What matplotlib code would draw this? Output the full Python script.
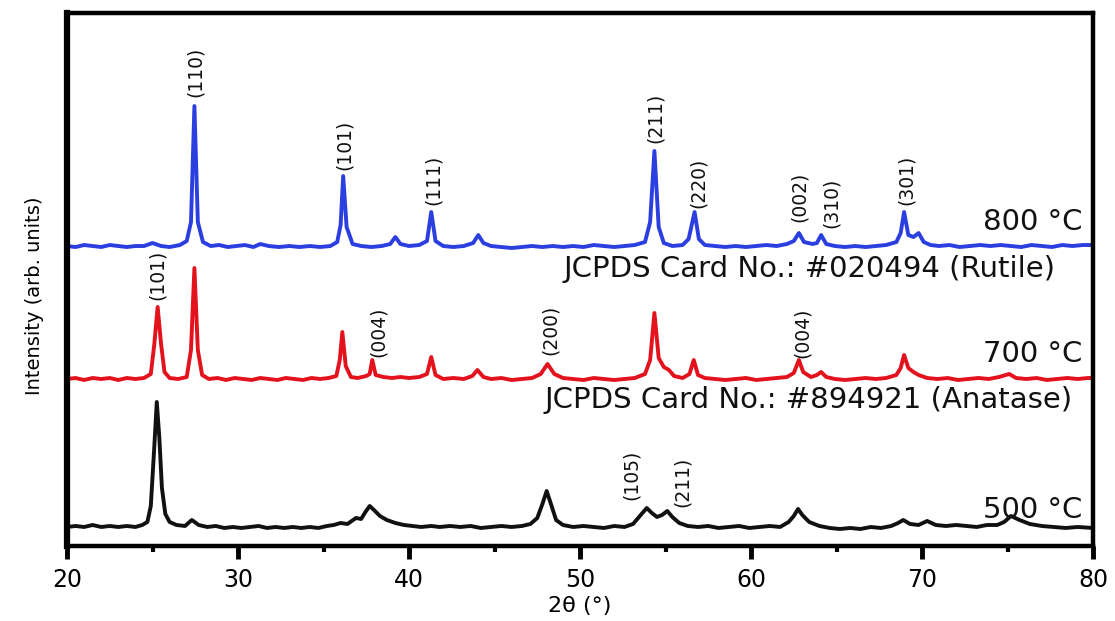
import matplotlib
matplotlib.use('Agg')
import matplotlib.pyplot as plt

# ── XRD patterns (2θ in degrees, intensity above baseline) ──
tt_500 = [20, 20.5, 21, 21.5, 22, 22.5, 23, 23.5, 24, 24.4, 24.7, 24.9, 25.1, 25.25,
          25.4, 25.55, 25.75, 26.0, 26.4, 26.9, 27.3, 27.7, 28.2, 28.7, 29.2, 29.7,
          30.2, 30.7, 31.2, 31.7, 32.2, 32.7, 33.2, 33.7, 34.2, 34.7, 35.2, 35.6, 36.0,
          36.4, 36.9, 37.2, 37.45, 37.7, 37.95, 38.3, 38.7, 39.2, 39.7, 40.2, 40.7,
          41.3, 41.8, 42.4, 43.0, 43.6, 44.2, 44.8, 45.4, 46.0, 46.6, 47.1, 47.5,
          47.8, 48.05, 48.3, 48.6, 49.0, 49.6, 50.2, 50.8, 51.4, 52.0, 52.6, 53.1,
          53.5, 53.9, 54.2, 54.5, 54.8, 55.1, 55.4, 55.8, 56.3, 56.9, 57.5, 58.1,
          58.7, 59.3, 59.9, 60.5, 61.1, 61.7, 62.2, 62.5, 62.75, 63.0, 63.4, 64.0,
          64.6, 65.2, 65.8, 66.4, 67.0, 67.6, 68.2, 68.6, 68.9, 69.3, 69.8, 70.3,
          70.8, 71.4, 72.0, 72.6, 73.2, 73.8, 74.4, 74.8, 75.2, 75.7, 76.3, 77.0,
          77.7, 78.4, 79.1, 80]
int_500 = [1, 2, 1, 3, 1, 2, 1, 2, 1, 3, 6, 22, 80, 126,
           90, 40, 14, 6, 3, 2, 8, 3, 1, 2, 0, 1,
           0, 1, 2, 0, 1, 0, 1, 0, 1, 0, 2, 3, 5,
           4, 10, 9, 16, 22, 18, 12, 8, 5, 3, 2, 1,
           2, 1, 2, 1, 2, 0, 1, 2, 1, 2, 4, 10,
           24, 37, 24, 8, 3, 1, 2, 1, 0, 2, 1, 4,
           12, 20, 15, 11, 13, 17, 11, 5, 2, 1, 2, 0,
           1, 2, 0, 1, 2, 1, 6, 12, 19, 13, 6, 2,
           0, -1, 0, -1, 1, 0, 2, 5, 8, 4, 3, 7,
           3, 2, 3, 2, 1, 3, 3, 6, 12, 8, 4, 2,
           1, 0, 1, 0]

tt_700 = [20, 20.5, 21, 21.5, 22, 22.5, 23, 23.5, 24, 24.5, 24.9, 25.1, 25.3, 25.5,
          25.7, 26.0, 26.5, 27.0, 27.25, 27.45, 27.65, 27.9, 28.3, 28.8, 29.3, 29.8,
          30.3, 30.8, 31.3, 31.8, 32.3, 32.8, 33.3, 33.8, 34.3, 34.8, 35.3, 35.75,
          35.95, 36.1, 36.3, 36.6, 37.0, 37.5, 37.7, 37.85, 38.05, 38.5, 39.0, 39.5,
          40.0, 40.6, 41.05, 41.3, 41.55, 42.0, 42.6, 43.2, 43.7, 44.0, 44.35, 44.8,
          45.4, 46.0, 46.6, 47.2, 47.7, 48.1, 48.5, 49.0, 49.6, 50.2, 50.8, 51.4,
          52.0, 52.6, 53.2, 53.8, 54.1, 54.35, 54.6, 54.9, 55.2, 55.5, 56.0, 56.4,
          56.65, 56.9, 57.3, 57.9, 58.5, 59.1, 59.7, 60.3, 60.9, 61.5, 62.1, 62.5,
          62.8, 63.05, 63.5, 63.85, 64.1, 64.4, 64.9, 65.5, 66.1, 66.7, 67.3, 67.9,
          68.5, 68.75, 68.95, 69.2, 69.5, 69.8, 70.3, 70.9, 71.5, 72.1, 72.7, 73.3,
          73.9, 74.5, 75.1, 75.5, 76.1, 76.7, 77.3, 77.9, 78.5, 79.1, 79.7, 80]
int_700 = [1, 2, 0, 2, 1, 2, 0, 2, 1, 2, 6, 35, 73, 36,
           8, 2, 1, 3, 30, 112, 30, 5, 1, 2, 0, 2,
           1, 0, 2, 1, 0, 2, 1, 0, 2, 1, 2, 4,
           20, 48, 14, 3, 2, 4, 6, 20, 5, 3, 2, 3,
           2, 3, 6, 23, 5, 1, 2, 1, 4, 10, 3, 1,
           2, 0, 1, 2, 6, 16, 6, 2, 1, 0, 2, 1,
           0, 1, 2, 6, 20, 67, 22, 13, 10, 4, 2, 6,
           20, 5, 2, 1, 0, 1, 2, 0, 1, 2, 3, 7,
           20, 8, 3, 5, 8, 3, 1, 0, 1, 2, 1, 2,
           5, 12, 25, 12, 8, 5, 2, 1, 2, 0, 1, 2,
           1, 3, 6, 2, 1, 2, 0, 1, 2, 1, 2, 2]

tt_800 = [20, 20.5, 21, 21.5, 22, 22.5, 23, 23.5, 24, 24.5, 25.0, 25.5, 26.0, 26.6,
          27.0, 27.25, 27.45, 27.65, 27.95, 28.4, 28.9, 29.4, 29.9, 30.4, 30.9, 31.3,
          31.8, 32.4, 33.0, 33.6, 34.2, 34.8, 35.4, 35.8, 36.0, 36.15, 36.35, 36.7,
          37.2, 37.8, 38.4, 38.9, 39.2, 39.5, 40.0, 40.6, 41.05, 41.3, 41.55, 42.0,
          42.6, 43.2, 43.75, 44.05, 44.35, 44.8, 45.4, 46.0, 46.6, 47.2, 47.8, 48.4,
          49.0, 49.6, 50.2, 50.8, 51.4, 52.0, 52.6, 53.2, 53.8, 54.1, 54.35, 54.6,
          54.9, 55.4, 56.0, 56.35, 56.7, 56.95, 57.3, 57.9, 58.5, 59.1, 59.7, 60.3,
          60.9, 61.5, 62.1, 62.5, 62.8, 63.1, 63.6, 63.85, 64.1, 64.4, 64.9, 65.5,
          66.1, 66.7, 67.3, 67.9, 68.5, 68.75, 68.95, 69.2, 69.5, 69.8, 70.1, 70.5,
          71.0, 71.6, 72.2, 72.8, 73.4, 74.0, 74.6, 75.2, 75.8, 76.4, 77.0, 77.6,
          78.2, 78.8, 79.4, 80]
int_800 = [1, 0, 2, 1, 0, 2, 1, 0, 1, 1, 4, 1, 0, 2,
           6, 25, 141, 25, 5, 1, 2, 0, 1, 2, 0, 3,
           1, 0, 1, 0, 1, 0, 1, 5, 22, 71, 20, 3,
           1, 0, 1, 3, 10, 3, 1, 2, 6, 35, 6, 1,
           0, 1, 4, 12, 4, 1, 0, -1, 0, 1, 0, 1,
           0, 1, 0, 2, 1, 0, 1, 2, 5, 25, 96, 20,
           4, 1, 2, 8, 35, 8, 2, 1, 0, 1, 0, 1,
           2, 1, 3, 6, 14, 5, 3, 4, 12, 3, 1, 0,
           1, 0, 1, 2, 5, 14, 35, 12, 10, 14, 5, 2,
           1, 2, 0, 1, 2, 1, 2, 1, 0, 2, 1, 0,
           2, 1, 2, 2]

# vertical offsets of the stacked patterns
offset_500 = 18
offset_700 = 166
offset_800 = 299

# ── Miller index labels: (text, 2θ, label bottom) ──
hkl_800 = [("(110)", 27.5, 449), ("(101)", 36.2, 376), ("(111)", 41.4, 341),
           ("(211)", 54.4, 403), ("(220)", 56.9, 338), ("(002)", 62.8, 324),
           ("(310)", 64.7, 318), ("(301)", 69.1, 341)]
hkl_700 = [("(101)", 25.3, 246), ("(004)", 38.2, 189), ("(200)", 48.25, 191),
           ("(004)", 63.0, 188)]
hkl_500 = [("(105)", 53.0, 46), ("(211)", 56.0, 39)]

fig = plt.figure(figsize=(11.15, 6.21), dpi=100)
ax = fig.add_axes([0.0601, 0.1208, 0.9202, 0.8582])

colors = {'500': '#111111', '700': '#e3121c', '800': '#2b3ee0'}
ax.plot(tt_500, [v + offset_500 for v in int_500], color=colors['500'], lw=2.8, solid_joinstyle='round')
ax.plot(tt_700, [v + offset_700 for v in int_700], color=colors['700'], lw=2.8, solid_joinstyle='round')
ax.plot(tt_800, [v + offset_800 for v in int_800], color=colors['800'], lw=2.8, solid_joinstyle='round')

for group in (hkl_800, hkl_700, hkl_500):
    for txt, x, y in group:
        ax.text(x, y, txt, rotation=90, ha='center', va='bottom',
                fontsize=13.5, color='#111111')

# temperature labels and reference cards
temp_kw = dict(ha='right', va='baseline', fontsize=21, color='#111111')
ax.text(79.4, 316, '800 °C', **temp_kw)
ax.text(79.4, 184, '700 °C', **temp_kw)
ax.text(79.4, 28, '500 °C', **temp_kw)
ax.text(77.8, 269, 'JCPDS Card No.: #020494 (Rutile)', ha='right', va='baseline',
        fontsize=21, color='#111111')
ax.text(78.8, 138, 'JCPDS Card No.: #894921 (Anatase)', ha='right', va='baseline',
        fontsize=21, color='#111111')

# ── Axes ────────────────────────────────────────────────────────────
ax.set_xlim(20, 80)
ax.set_ylim(0, 533)
ax.set_xticks([20, 30, 40, 50, 60, 70, 80])
ax.set_xticks([25, 35, 45, 55, 65, 75], minor=True)
ax.set_yticks([])
ax.tick_params(axis='x', which='major', direction='out', length=9, width=3.5,
               labelsize=17, pad=7)
ax.tick_params(axis='x', which='minor', direction='out', length=4, width=3)
for side in ['top', 'right', 'bottom']:
    ax.spines[side].set_linewidth(3.2)
ax.spines['left'].set_linewidth(4.5)

ax.set_xlabel('2θ (°)', fontsize=16, labelpad=3)
ax.set_ylabel('Intensity (arb. units)', fontsize=14)
ax.yaxis.set_label_coords(-0.022, 0.469)

fig.savefig('out.png', dpi=100, facecolor='white')
plt.close()
